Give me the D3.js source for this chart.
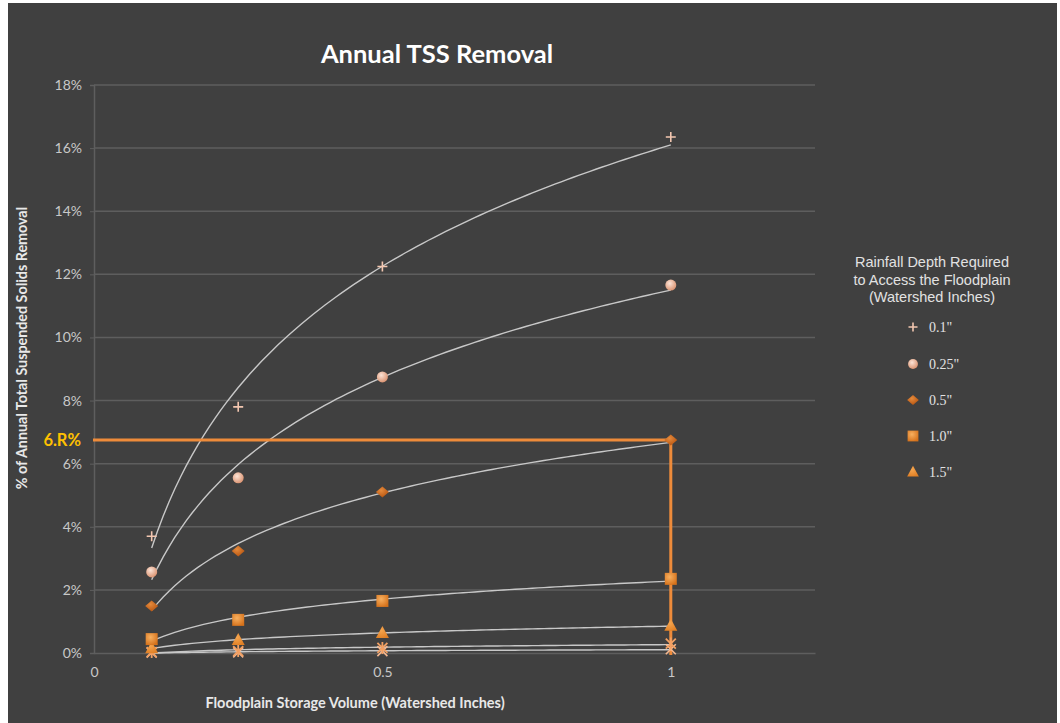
<!DOCTYPE html>
<html>
<head>
<meta charset="utf-8">
<script src="https://cdn.jsdelivr.net/npm/d3@7"></script>
<style>
  html, body { margin: 0; padding: 0; background: #ffffff; }
  svg { display: block; }
</style>
</head>
<body>
<svg id="chart" width="1060" height="723"></svg>
<script>
// Floodplain storage volume (watershed inches)
const storage = [0.1, 0.25, 0.5, 1];

// Annual TSS removal (%) per rainfall depth needed to reach the floodplain
const seriesNames = ['0.1"', '0.25"', '0.5"', '1.0"', '1.5"', '2.0"', '3.0"'];
const removal01 = [3.7, 7.8, 12.25, 16.35];
const removal025 = [2.57, 5.55, 8.75, 11.66];
const removal05 = [1.49, 3.23, 5.1, 6.75];
const removal10 = [0.44, 1.05, 1.65, 2.35];
const removal15 = [0.15, 0.41, 0.63, 0.86];
const removal20 = [0.03, 0.06, 0.16, 0.3];
const removal30 = [0.01, 0.02, 0.06, 0.12];
const legendCount = 5;

const yTicks = [0, 2, 4, 6, 8, 10, 12, 14, 16, 18];
const xTicks = [0, 0.5, 1];

// Highlighted reading: 0.5" series at 1 inch of storage
const highlightX = 1;
const highlightY = removal05[3];
const highlightLabel = "6.R%";

const allSeries = [removal01, removal025, removal05, removal10, removal15, removal20, removal30];

const svg = d3.select("#chart");
const W = 1060, H = 723;

svg.append("rect").attr("x", 8).attr("y", 3).attr("width", 1049).attr("height", H - 3).attr("fill", "#404040");

const x = d3.scaleLinear().domain([0, 1.25]).range([94, 815]);
const y = d3.scaleLinear().domain([0, 18]).range([653, 85]);

const defs = svg.append("defs");
function radial(id, c1, c2) {
  const g = defs.append("radialGradient").attr("id", id).attr("cx", "40%").attr("cy", "35%").attr("r", "70%");
  g.append("stop").attr("offset", "0%").attr("stop-color", c1);
  g.append("stop").attr("offset", "100%").attr("stop-color", c2);
}
radial("gCircle", "#fbe3d6", "#d98f6c");
radial("gDiamond", "#e58a3c", "#b5530f");
radial("gSquare", "#f7b060", "#d5711a");
radial("gTri", "#f6a650", "#e07f24");

// Gridlines
const grid = svg.append("g");
grid.selectAll("line").data(yTicks.slice(1)).join("line")
  .attr("x1", 94).attr("x2", 815)
  .attr("y1", d => y(d)).attr("y2", d => y(d))
  .attr("stroke", "#5e5e5e").attr("stroke-width", 1.5);

// Axes
const yAxis = svg.append("g").attr("transform", "translate(94,0)")
  .call(d3.axisLeft(y).tickValues(yTicks).tickFormat(d => d + "%").tickSize(4).tickPadding(8));
yAxis.select(".domain").attr("stroke", "#5e5e5e").attr("stroke-width", 1.5);
yAxis.selectAll(".tick line").attr("stroke", "#5e5e5e");
yAxis.selectAll(".tick text").attr("fill", "#c8c8c8").attr("font-family", "Lato, 'Open Sans', sans-serif").attr("font-size", 14);

const xAxis = svg.append("g").attr("transform", "translate(0,653)")
  .call(d3.axisBottom(x).tickValues(xTicks).tickFormat(d3.format("")).tickSize(0).tickPadding(14));
xAxis.select(".domain").attr("stroke", "#5e5e5e").attr("stroke-width", 1.5);
xAxis.selectAll(".tick text").attr("fill", "#c8c8c8").attr("font-family", "Lato, 'Open Sans', sans-serif").attr("font-size", 14);

// Logarithmic trendlines fitted to each series
function logFit(vals) {
  const lx = storage.map(Math.log);
  const n = lx.length;
  const mx = d3.mean(lx), my = d3.mean(vals);
  let sxy = 0, sxx = 0;
  for (let i = 0; i < n; i++) { sxy += (lx[i] - mx) * (vals[i] - my); sxx += (lx[i] - mx) ** 2; }
  const b = sxy / sxx, a = my - b * mx;
  return t => a + b * Math.log(t);
}
const line = d3.line().x(d => x(d[0])).y(d => y(d[1])).curve(d3.curveLinear);
const trend = svg.append("g");
allSeries.forEach(vals => {
  const f = logFit(vals);
  const pts = d3.range(0, 91).map(i => { const t = 0.1 + i * 0.01; return [t, f(t)]; });
  trend.append("path").attr("d", line(pts)).attr("fill", "none")
    .attr("stroke", "#c8c8c8").attr("stroke-width", 1.4);
});

// Highlight lines
svg.append("path")
  .attr("d", `M${x(0) - 1},${y(highlightY)} H${x(highlightX)} V${y(0) + 2}`)
  .attr("fill", "none").attr("stroke", "#ee8b3a").attr("stroke-width", 3);
svg.append("text").attr("x", 81).attr("y", y(highlightY) + 6).attr("text-anchor", "end")
  .attr("fill", "#ffc000").attr("font-family", "Lato, 'Open Sans', sans-serif").attr("font-weight", "bold")
  .attr("font-size", 16.5).text(highlightLabel);

// Marker drawing
function drawMarker(g, idx, cx, cy, scale) {
  const s = scale || 1;
  const m = g.append("g").attr("transform", `translate(${cx},${cy})`);
  switch (idx) {
    case 0:
      m.append("path").attr("d", `M${-5 * s},0H${5 * s}M0,${-5 * s}V${5 * s}`).attr("stroke", "#f2c6b0").attr("stroke-width", 1.6);
      break;
    case 1:
      m.append("circle").attr("r", 5.5 * s).attr("fill", "url(#gCircle)");
      break;
    case 2:
      m.append("path").attr("d", `M0,${-5.5 * s}L${6.5 * s},0L0,${5.5 * s}L${-6.5 * s},0Z`).attr("fill", "url(#gDiamond)");
      break;
    case 3:
      m.append("rect").attr("x", -6 * s).attr("y", -6 * s).attr("width", 12 * s).attr("height", 12 * s).attr("fill", "url(#gSquare)");
      break;
    case 4:
      m.append("path").attr("d", `M0,${-7 * s}L${6.5 * s},${5 * s}H${-6.5 * s}Z`).attr("fill", "url(#gTri)");
      break;
    case 5:
      m.append("path").attr("d", `M-5,-5L5,5M5,-5L-5,5M0,-6V6`).attr("stroke", "#f2a063").attr("stroke-width", 1.8);
      break;
    default:
      m.append("path").attr("d", `M-5,-5L5,5M5,-5L-5,5`).attr("stroke", "#f6b890").attr("stroke-width", 1.6);
  }
}

const marks = svg.append("g");
for (let si = allSeries.length - 1; si >= 0; si--) {
  allSeries[si].forEach((v, i) => drawMarker(marks, si, x(storage[i]), y(v)));
}

// Titles
svg.append("text").attr("x", 437).attr("y", 63).attr("text-anchor", "middle")
  .attr("fill", "#ffffff").attr("font-family", "Lato, 'Open Sans', sans-serif").attr("font-weight", "bold")
  .attr("font-size", 25.5).text("Annual TSS Removal");

svg.append("text").attr("x", 355).attr("y", 708).attr("text-anchor", "middle")
  .attr("fill", "#e8e8e8").attr("font-family", "Lato, 'Open Sans', sans-serif").attr("font-weight", "bold")
  .attr("font-size", 14.5).text("Floodplain Storage Volume (Watershed Inches)");

svg.append("text").attr("transform", "translate(27,348) rotate(-90)").attr("text-anchor", "middle")
  .attr("fill", "#e8e8e8").attr("font-family", "Lato, 'Open Sans', sans-serif").attr("font-weight", "bold")
  .attr("font-size", 14.3).text("% of Annual Total Suspended Solids Removal");

// Legend
const legend = svg.append("g");
["Rainfall Depth Required", "to Access the Floodplain", "(Watershed Inches)"].forEach((t, i) => {
  legend.append("text").attr("x", 932).attr("y", 267 + i * 17.5).attr("text-anchor", "middle")
    .attr("fill", "#e2e2e2").attr("font-family", "'Liberation Sans', Arial, sans-serif")
    .attr("font-size", 14.5).text(t);
});
const legendY = [327, 364, 400, 436, 472];
seriesNames.slice(0, legendCount).forEach((name, i) => {
  drawMarker(legend, i, 913, legendY[i], 0.9);
  legend.append("text").attr("x", 929).attr("y", legendY[i] + 5)
    .attr("fill", "#e2e2e2").attr("font-family", "'Liberation Serif', 'Times New Roman', serif")
    .attr("font-size", 14).text(name);
});
</script>
</body>
</html>
